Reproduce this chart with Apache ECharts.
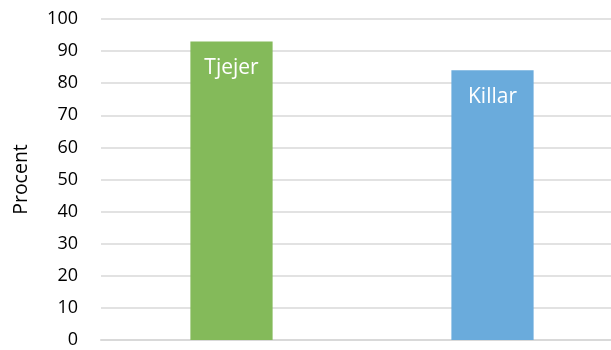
<!DOCTYPE html>
<html>
<head>
<meta charset="utf-8">
<script src="https://cdn.jsdelivr.net/npm/echarts@6/dist/echarts.min.js"></script>
<style>
html,body{margin:0;padding:0;background:#fff;overflow:hidden;}
/* the original plot is cut off at the right edge, so the chart is a bit wider than the window */
#main{width:623px;height:350px;}
</style>
</head>
<body>
<div id="main"></div>
<script>
var categories = ['Tjejer', 'Killar'];
var values = [93, 84];
var barColors = ['#84BA5A', '#6AABDC'];
var yTicks = [0, 10, 20, 30, 40, 50, 60, 70, 80, 90, 100];

var myChart = echarts.init(document.getElementById('main'));

var data = [];
for (var i = 0; i < values.length; i++) {
	data.push({
		value: values[i],
		itemStyle: { color: barColors[i] },
		label: { formatter: categories[i] }
	});
}

var option = {
	animation: false,
	textStyle: { fontFamily: 'Open Sans' },
	grid: { left: 101, right: 0, top: 19, bottom: 10 },
	xAxis: {
		type: 'category',
		data: categories,
		axisLine: { lineStyle: { color: '#d9d9d9', width: 2 } },
		axisTick: { show: false },
		axisLabel: { show: false }
	},
	yAxis: {
		type: 'value',
		min: yTicks[0],
		max: yTicks[yTicks.length - 1],
		interval: 10,
		name: 'Procent',
		nameLocation: 'middle',
		nameGap: 70,
		nameTextStyle: { fontSize: 19.5, color: '#000', fontFamily: 'Open Sans' },
		axisLine: { show: false },
		axisTick: { show: false },
		axisLabel: { fontSize: 18, color: '#000', margin: 23, fontFamily: 'Open Sans' },
		splitLine: { lineStyle: { color: '#d9d9d9', width: 1.5 } }
	},
	series: [{
		type: 'bar',
		data: data,
		barWidth: '31.5%',
		label: {
			show: true,
			position: 'insideTop',
			distance: 16,
			color: '#fff',
			fontSize: 21,
			fontFamily: 'Open Sans'
		}
	}]
};
myChart.setOption(option);
</script>
</body>
</html>
